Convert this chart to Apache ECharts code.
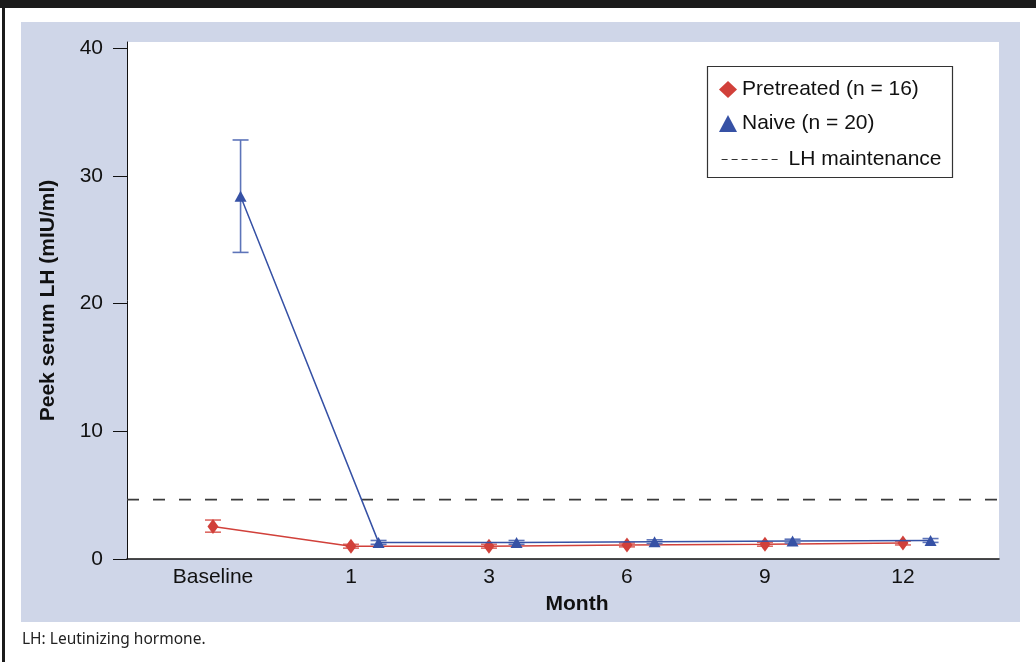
<!DOCTYPE html>
<html>
<head>
<meta charset="utf-8">
<script src="https://cdn.jsdelivr.net/npm/echarts@6/dist/echarts.min.js"></script>
<style>
html,body{margin:0;padding:0;background:#fff;}
#chart{width:1036px;height:662px;}
</style>
</head>
<body>
<div id="chart"></div>
<script>
// ---- data ----
const categories = ['Baseline', '1', '3', '6', '9', '12'];
const pretreatedMean = [2.55, 1.0, 1.0, 1.1, 1.15, 1.25];
const pretreatedLow  = [2.1, 0.85, 0.85, 0.95, 1.0, 1.1];
const pretreatedHigh = [3.05, 1.15, 1.15, 1.25, 1.3, 1.4];
const naiveMean = [28.4, 1.3, 1.3, 1.35, 1.4, 1.45];
const naiveLow  = [24.0, 1.15, 1.15, 1.2, 1.25, 1.3];
const naiveHigh = [32.8, 1.45, 1.45, 1.5, 1.55, 1.6];
const lhMaintenance = 4.65;
const yTicks = [0, 10, 20, 30, 40];
const seriesNames = ['Pretreated (n = 16)', 'Naive (n = 20)', 'LH maintenance'];
const footnote = 'LH: Leutinizing hormone.';

// ---- layout ----
const xMin = -0.623, xMax = 5.696;
const naiveShift = 0.2;
const RED = '#d1403a', RED_BAR = '#dd6a64';
const BLUE = '#3651a5', BLUE_BAR = '#5d74b9';
const FONT = '"Liberation Sans", Arial, Helvetica, sans-serif';
const FS = 21;

const idx = categories.map((_, i) => i);
const redData = idx.map(i => [i, pretreatedMean[i]]);
const blueData = idx.map(i => [i + naiveShift, naiveMean[i]]);
const redErr = idx.map(i => [i, pretreatedLow[i], pretreatedHigh[i]]);
const blueErr = idx.map(i => [i + naiveShift, naiveLow[i], naiveHigh[i]]);

function errRender(color) {
  return function (params, api) {
    const x = api.value(0);
    const lo = api.coord([x, api.value(1)]);
    const hi = api.coord([x, api.value(2)]);
    const hw = 8;
    const st = { stroke: color, lineWidth: 1.6 };
    return {
      type: 'group',
      children: [
        { type: 'line', shape: { x1: lo[0], y1: lo[1], x2: hi[0], y2: hi[1] }, style: st },
        { type: 'line', shape: { x1: lo[0] - hw, y1: lo[1], x2: lo[0] + hw, y2: lo[1] }, style: st },
        { type: 'line', shape: { x1: hi[0] - hw, y1: hi[1], x2: hi[0] + hw, y2: hi[1] }, style: st }
      ]
    };
  };
}

const chart = echarts.init(document.getElementById('chart'), null, { renderer: 'canvas' });
chart.setOption({
  backgroundColor: '#ffffff',
  animation: false,
  textStyle: { fontFamily: FONT },
  grid: { left: 127, right: 37, top: 42, bottom: 103, show: true, backgroundColor: '#ffffff', borderWidth: 0, containLabel: false },
  graphic: [
    { type: 'rect', z: -100, shape: { x: 0, y: 0, width: 1036, height: 8 }, style: { fill: '#1b1b1b' } },
    { type: 'rect', z: -100, shape: { x: 2, y: 0, width: 3, height: 662 }, style: { fill: '#1b1b1b' } },
    { type: 'rect', z: -100, shape: { x: 21, y: 22, width: 999, height: 600 }, style: { fill: '#cfd6e8' } },
    { type: 'rect', z: 50, shape: { x: 707.5, y: 66.5, width: 245, height: 111 }, style: { fill: 'rgba(255,255,255,0)', stroke: '#333', lineWidth: 1.2 } },
    { type: 'text', left: 22, top: 632, style: { text: footnote, font: '15.5px "Noto Sans", "Open Sans", sans-serif', fill: '#222' } }
  ],
  legend: [
    {
      orient: 'vertical', left: 714, top: 74, itemGap: 13,
      itemWidth: 18, itemHeight: 17,
      textStyle: { fontSize: FS, color: '#111', fontFamily: FONT },
      data: [{ name: seriesNames[0], icon: 'diamond' }, { name: seriesNames[1], icon: 'triangle' }]
    },
    {
      orient: 'vertical', left: 716, top: 144,
      itemWidth: 60, itemHeight: 12,
      textStyle: { fontSize: FS, color: '#111', fontFamily: FONT, padding: [0, 0, 0, 2] },
      lineStyle: { type: [6, 4], width: 1.2, color: '#333' },
      itemStyle: { opacity: 0, color: 'transparent', borderWidth: 0 },
      data: [{ name: seriesNames[2] }]
    }
  ],
  xAxis: {
    type: 'value', min: xMin, max: xMax,
    name: 'Month', nameLocation: 'middle', nameGap: 35,
    nameTextStyle: { fontSize: FS, fontWeight: 'bold', color: '#111', fontFamily: FONT, padding: [0, 0, 0, 28] },
    axisLine: { show: true, onZero: false, lineStyle: { color: '#111', width: 1.6 } },
    axisTick: { show: false },
    splitLine: { show: false },
    axisLabel: {
      customValues: idx, margin: 8, fontSize: FS, color: '#111', fontFamily: FONT,
      formatter: v => categories[Math.round(v)]
    }
  },
  yAxis: {
    type: 'value', min: 0, max: 40.47,
    name: 'Peek serum LH (mIU/ml)', nameLocation: 'middle', nameGap: 68,
    nameTextStyle: { fontSize: FS, fontWeight: 'bold', color: '#111', fontFamily: FONT },
    axisLine: { show: true, onZero: false, lineStyle: { color: '#111', width: 1 } },
    axisTick: { show: true, customValues: yTicks, inside: false, length: 14, lineStyle: { color: '#111', width: 1 } },
    splitLine: { show: false },
    axisLabel: { customValues: yTicks, margin: 24, fontSize: FS, color: '#111', fontFamily: FONT }
  },
  series: [
    {
      name: seriesNames[2], type: 'line', symbol: 'none', silent: true,
      data: [[xMin, lhMaintenance], [xMax, lhMaintenance]],
      lineStyle: { color: '#3a3a3a', width: 1.8, type: [12, 14] },
      itemStyle: { color: '#3a3a3a' }, z: 1
    },
    {
      name: seriesNames[0] + ' err', type: 'custom', renderItem: errRender(RED_BAR),
      data: redErr, encode: { x: 0, y: [1, 2] }, z: 2
    },
    {
      name: seriesNames[0], type: 'line', data: redData,
      symbol: 'diamond', symbolSize: [11, 15],
      lineStyle: { color: RED, width: 1.5 }, itemStyle: { color: RED }, z: 3
    },
    {
      name: seriesNames[1] + ' err', type: 'custom', renderItem: errRender(BLUE_BAR),
      data: blueErr, encode: { x: 0, y: [1, 2] }, z: 4
    },
    {
      name: seriesNames[1], type: 'line', data: blueData,
      symbol: 'triangle', symbolSize: [12, 11],
      lineStyle: { color: BLUE, width: 1.5 }, itemStyle: { color: BLUE }, z: 5
    }
  ]
});
</script>
</body>
</html>
